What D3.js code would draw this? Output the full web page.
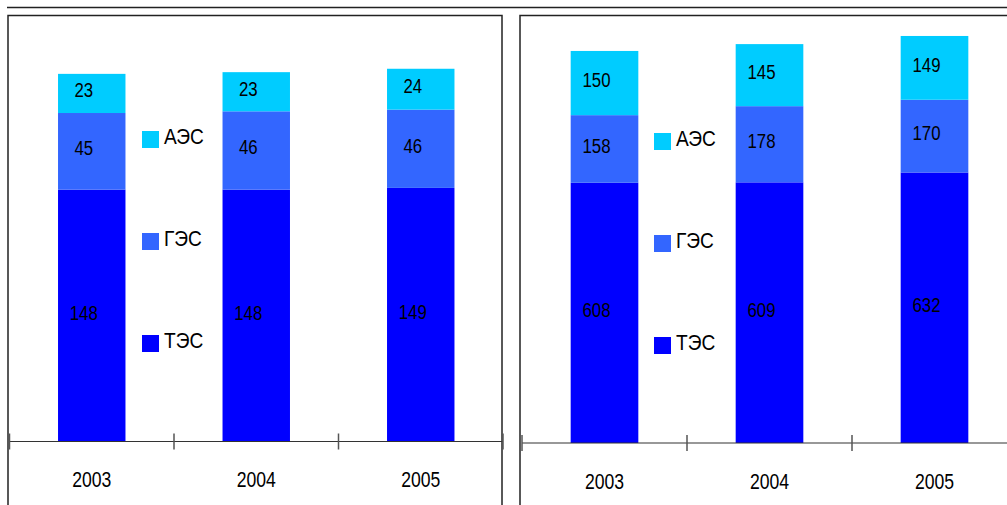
<!DOCTYPE html>
<html>
<head>
<meta charset="utf-8">
<script src="https://cdn.jsdelivr.net/npm/d3@7"></script>
<style>
  body { margin: 0; background: #fff; }
  svg text { font-family: "Liberation Sans Narrow", "Arial Narrow", "Liberation Sans", sans-serif; fill: #000; }
</style>
</head>
<body>
<svg id="chart" width="1007" height="505"></svg>
<script>
// data
const years = ['2003', '2004', '2005'];
const series = ['ТЭС', 'ГЭС', 'АЭС'];          // bottom to top
const colors = ['#0000ff', '#3366ff', '#00ccff'];

// left chart
const leftTES = [148, 148, 149];
const leftGES = [45, 46, 46];
const leftAES = [23, 23, 24];

// right chart
const rightTES = [608, 609, 632];
const rightGES = [158, 178, 170];
const rightAES = [150, 145, 149];

// no narrow font installed, so squeeze the regular one
const digitSqueeze = 0.8,
  wordSqueeze = 0.87;

const svg = d3.select('#chart');

// top rule
svg.append('line')
  .attr('x1', 7).attr('x2', 1007)
  .attr('y1', 7.5).attr('y2', 7.5)
  .attr('stroke', '#222').attr('stroke-width', 1.5);

function panel(g, values, opt) {
  const table = years.map((yr, i) => {
    const row = {year: yr};
    series.forEach((s, k) => row[s] = values[k][i]);
    return row;
  });
  const stacked = d3.stack().keys(series)(table);

  const x = d3.scaleBand()
    .domain(years)
    .range([opt.x0, opt.x1])
    .paddingInner(0.59)
    .paddingOuter(0.295);
  const y = d3.scaleLinear()
    .domain([0, opt.max])
    .range([opt.base, opt.top]);

  // frame
  g.append('rect')
    .attr('x', opt.frameX).attr('y', 15.5)
    .attr('width', opt.frameW).attr('height', 520)
    .attr('fill', 'none')
    .attr('stroke', '#222').attr('stroke-width', 1.5);

  // bars
  const layer = g.selectAll('.layer').data(stacked).enter().append('g')
    .attr('class', 'layer')
    .attr('fill', (d, i) => colors[i]);

  layer.selectAll('rect').data(d => d).enter().append('rect')
    .attr('x', d => x(d.data.year))
    .attr('width', x.bandwidth())
    .attr('y', d => y(d[1]))
    .attr('height', d => y(d[0]) - y(d[1]));

  layer.selectAll('text').data(d => d).enter().append('text')
    .attr('transform', d => `translate(${x(d.data.year) + x.bandwidth() / 2 - 8}, ${(y(d[0]) + y(d[1])) / 2 + 4}) scale(${digitSqueeze}, 1)`)
    .attr('text-anchor', 'middle')
    .attr('font-size', 21)
    .text(d => d[1] - d[0]);

  // axis with ticks between categories
  const step = x.step();
  const axis = g.append('g').attr('class', 'axis axis--x');
  axis.append('line')
    .attr('x1', opt.x0).attr('x2', opt.x1)
    .attr('y1', opt.base).attr('y2', opt.base)
    .attr('stroke', '#333').attr('stroke-width', 1.2);
  axis.selectAll('.tick').data(d3.range(years.length + 1)).enter().append('line')
    .attr('class', 'tick')
    .attr('x1', i => opt.x0 + i * step).attr('x2', i => opt.x0 + i * step)
    .attr('y1', opt.base - 8).attr('y2', opt.base + 8)
    .attr('stroke', '#555').attr('stroke-width', 1.5);
  axis.selectAll('.year').data(years).enter().append('text')
    .attr('class', 'year')
    .attr('transform', d => `translate(${x(d) + x.bandwidth() / 2}, ${opt.base + 45.5}) scale(${digitSqueeze}, 1)`)
    .attr('text-anchor', 'middle')
    .attr('font-size', 22)
    .text(d => d);

  // legend, top entry is the top of the stack
  const legend = g.selectAll('.legend').data(series.slice().reverse()).enter().append('g')
    .attr('class', 'legend')
    .attr('transform', (d, i) => `translate(${opt.legendX}, ${opt.legendY + i * 102})`);
  legend.append('rect')
    .attr('width', 17).attr('height', 17)
    .attr('fill', d => colors[series.indexOf(d)]);
  legend.append('text')
    .attr('transform', `translate(22, 13) scale(${wordSqueeze}, 1)`)
    .attr('font-size', 22)
    .text(d => d);
}

panel(svg.append('g'), [leftTES, leftGES, leftAES], {
  x0: 9.5, x1: 503, base: 441.5, top: 16, max: 250,
  frameX: 8, frameW: 494, legendX: 142, legendY: 131
});

panel(svg.append('g'), [rightTES, rightGES, rightAES], {
  x0: 522, x1: 1017, base: 443, top: 15, max: 1000,
  frameX: 520, frameW: 520, legendX: 654, legendY: 133
});
</script>
</body>
</html>
